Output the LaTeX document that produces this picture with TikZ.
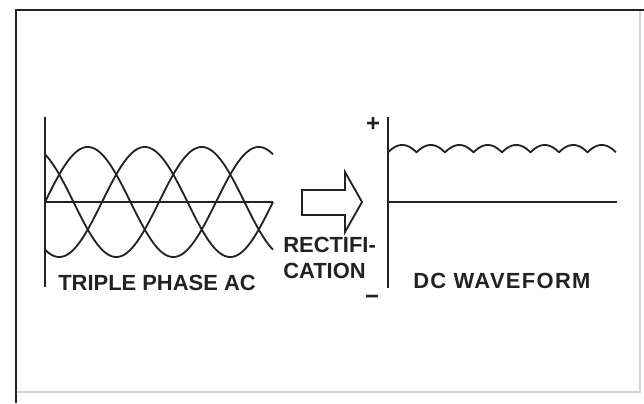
\documentclass[tikz,border=0pt]{standalone}
\usepackage{fontspec}
\setmainfont{Liberation Sans}
\newfontfamily\widefont[LetterSpace=6]{Liberation Sans}
\usetikzlibrary{arrows.meta,positioning,calc}
\definecolor{ink}{HTML}{222222}
\definecolor{faint}{HTML}{D4D4D4}
\tikzset{
frameline/.style={draw=ink,line width=1.8pt},
faintline/.style={draw=faint,line width=.8pt},
axis/.style={draw=ink,line width=1.3pt},
wave/.style={draw=ink,line width=1.3pt,line join=round},
blockarrow/.style={draw=ink,line width=1.3pt,fill=white,line join=miter},
label/.style={font=\fontsize{15.6}{18}\selectfont\bfseries,text=ink,inner sep=0pt},
sign/.style={font=\fontsize{17}{19}\selectfont\bfseries,text=ink,inner sep=0pt}}
\begin{document}
\begin{tikzpicture}[x=0.025cm,y=-0.025cm]
\useasboundingbox (0,0) rectangle (644,403);
% frame
\draw[faintline] (640,10) -- (640,392) -- (16,392);
\draw[frameline] (644,10) -- (16,10) -- (16,403);
% triple phase side
\coordinate (acTop) at (45,117);
\coordinate (acBot) at (45,287);
\coordinate (acZero) at (45,202);
\coordinate (acEnd) at (273,202);
\draw[axis] (acTop) -- (acBot);
\draw[axis] (acZero) -- (acEnd);
\foreach \ph in {0,120,240}
  \draw[wave] plot[domain=0:480,samples=161,smooth] ({45+\x/360*171},{202-55*sin(\x+\ph)});
\node[label,anchor=base west] (acLabel) at (58,290) {TRIPLE PHASE AC};
% rectification arrow
\draw[blockarrow] (302,190) -- (345,190) -- (345,172) -- (362,202) -- (345,232) -- (345,215) -- (302,215) -- cycle;
\node[label,anchor=base west] (rectA) at (283,252) {RECTIFI-};
\node[label,anchor=base west] (rectB) at (283,278) {CATION};
% dc side
\coordinate (dcTop) at (388,117);
\coordinate (dcBot) at (388,288);
\coordinate (dcZero) at (388,202);
\coordinate (dcEnd) at (617,202);
\draw[axis] (dcTop) -- (dcBot);
\draw[axis] (dcZero) -- (dcEnd);
\draw[wave] plot[domain=0:480,samples=241] ({388+\x/360*171},{145+55*(1-cos(mod(\x,60)-30))});
\node[sign] (plus) at (373,124) {+};
\node[sign,anchor=base] (minus) at (372,304) {−};
\node[label,font=\fontsize{15.6}{18}\widefont\bfseries,anchor=base west] (dcLabel) at (413,288) {DC WAVEFORM};
\end{tikzpicture}
\end{document}
